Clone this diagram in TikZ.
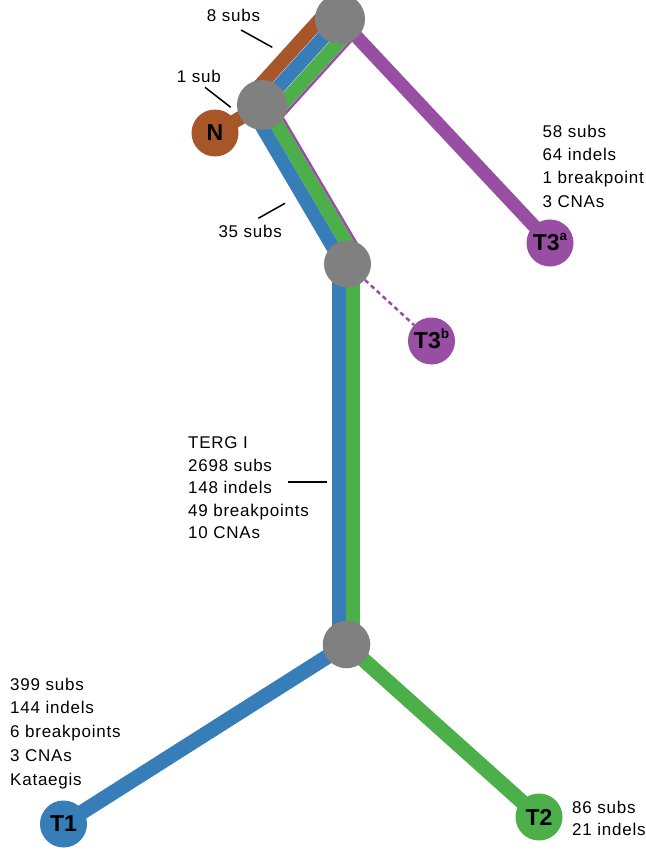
\documentclass[tikz,border=0pt]{standalone}
\usepackage{fontspec}
\setmainfont{Liberation Sans}
\usetikzlibrary{calc,backgrounds}
\definecolor{cbrown}{HTML}{A65628}
\definecolor{cblue}{HTML}{377EB8}
\definecolor{cgreen}{HTML}{4DAF4A}
\definecolor{cpurple}{HTML}{984EA3}
\definecolor{cgray}{HTML}{808080}
\newcommand\supmark[1]{\smash{\raisebox{10pt}{\fontsize{13.5}{13.5}\selectfont\bfseries #1}}}
\begin{document}
\begin{tikzpicture}[x=1pt,y=-1pt,
  junc/.style={circle,fill=cgray,inner sep=0pt},
  leaf/.style={circle,inner sep=0pt,minimum size=47pt,font=\fontsize{23}{23}\selectfont\bfseries},
  strand/.style={line width=14pt},
  pline/.style={line width=2.5pt,draw=cpurple},
  lbl/.style={anchor=base west,inner sep=0pt,font=\fontsize{17}{17}\selectfont\addfontfeature{LetterSpace=4.5}},
  tickline/.style={line width=1.5pt,black}]
\useasboundingbox (0,0) rectangle (645,859);

% nodes
\node[junc,minimum size=50pt] (A) at (340,19) {};
\node[junc,minimum size=50pt] (B) at (262,105) {};
\node[leaf,fill=cbrown] (N) at (215,133) {N};
\node[junc,minimum size=47pt] (C) at (347.5,264) {};
\node[leaf,fill=cpurple] (T3a) at (550,243) {T3\supmark{a}};
\node[leaf,fill=cpurple] (T3b) at (431.5,341) {T3\supmark{b}};
\node[junc,minimum size=47.5pt] (D) at (346.5,644.5) {};
\node[leaf,fill=cblue] (T1) at (63.5,824) {T1};
\node[leaf,fill=cgreen] (T2) at (539,817) {T2};

\coordinate (bcB) at ($(B.center)+(-4.5,0)$);
\coordinate (bcC) at ($(C.center)+(3.5,0)$);
\coordinate (cdC) at ($(C.center)+(-2,0)$);
\coordinate (cdD) at ($(D.center)+(-1,0)$);

\begin{pgfonlayer}{background}
\fill[white] (0,0) rectangle (645,859);
% single strands
\draw[strand,cbrown] (B.center) -- (N.center);
\draw[strand,cpurple,line width=13.5pt] (A.center) -- (T3a.center);
\draw[strand,cblue,line width=15pt] (D.center) -- (T1.center);
\draw[strand,cgreen,line width=15pt] (D.center) -- (T2.center);
\draw[cpurple,line width=2.5pt,dash pattern=on 4.5pt off 3.5pt] (C) -- (T3b);
% A--B bundle
\draw[strand,cblue] (A.center) -- (B.center);
\draw[strand,cbrown] ($(A.center)!14.5pt!-90:(B.center)$) -- ($(B.center)!14.5pt!90:(A.center)$);
\draw[strand,cgreen] ($(A.center)!14.5pt!90:(B.center)$) -- ($(B.center)!14.5pt!-90:(A.center)$);
\draw[pline] ($(A.center)!23pt!90:(B.center)$) -- ($(B.center)!23pt!-90:(A.center)$);
% B--C bundle
\draw[strand,cblue] ($(bcB)!7pt!-90:(bcC)$) -- ($(bcC)!7pt!90:(bcB)$);
\draw[strand,cgreen] ($(bcB)!7pt!90:(bcC)$) -- ($(bcC)!7pt!-90:(bcB)$);
\draw[pline] ($(bcB)!15.3pt!90:(bcC)$) -- ($(bcC)!15.3pt!-90:(bcB)$);
% C--D bundle
\draw[strand,cblue] ($(cdC)+(-7,0)$) -- ($(cdD)+(-7,0)$);
\draw[strand,cgreen] ($(cdC)+(7,0)$) -- ($(cdD)+(7,0)$);
\end{pgfonlayer}

% leader ticks
\coordinate (k8a) at (241,30);   \coordinate (k8b) at (272.3,47.3);
\coordinate (k1a) at (205,87.3); \coordinate (k1b) at (230.7,107.3);
\coordinate (k35a) at (258.3,218.3); \coordinate (k35b) at (285,203.3);
\coordinate (kTa) at (288.3,482); \coordinate (kTb) at (326.7,482);
\draw[tickline] (k8a) -- (k8b);
\draw[tickline] (k1a) -- (k1b);
\draw[tickline] (k35a) -- (k35b);
\draw[tickline] (kTa) -- (kTb);

% labels
\node[lbl] (l8) at (206.7,21.7) {8 subs};
\node[lbl] (l1) at (176.7,82.7) {1 sub};
\node[lbl] (l35) at (218.3,237.7) {35 subs};
\foreach \t [count=\i from 0] in {58 subs,64 indels,1 breakpoint,3 CNAs}
  \node[lbl] (la\i) at (542.5,137.3+23.3*\i) {\t};
\foreach \t [count=\i from 0] in {TERG I,2698 subs,148 indels,49 breakpoints,10 CNAs}
  \node[lbl] (lt\i) at (188,448.5+22.6*\i) {\t};
\foreach \t [count=\i from 0] in {399 subs,144 indels,6 breakpoints,3 CNAs,Kataegis}
  \node[lbl] (lo\i) at (10,690+23.9*\i) {\t};
\foreach \t [count=\i from 0] in {86 subs,21 indels}
  \node[lbl] (lw\i) at (572,813.3+22.4*\i) {\t};
\end{tikzpicture}
\end{document}
